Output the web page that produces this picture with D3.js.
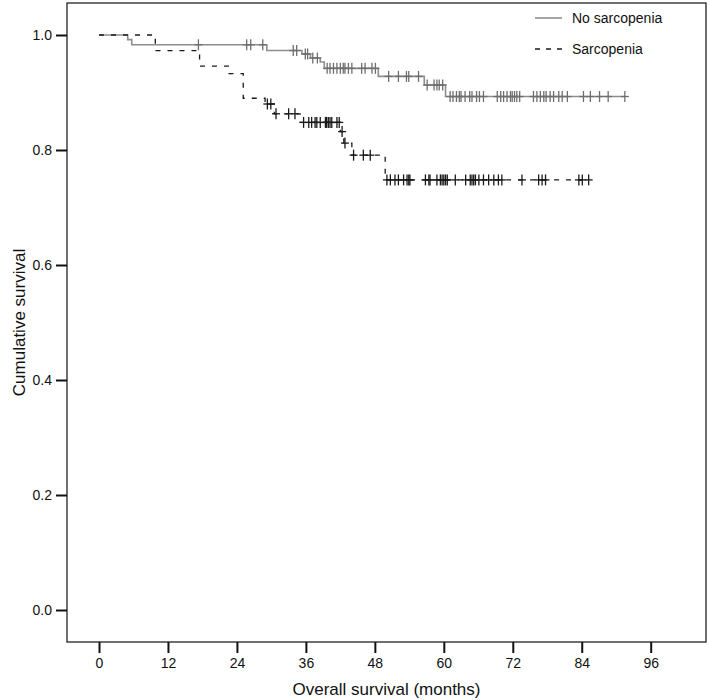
<!DOCTYPE html>
<html><head><meta charset="utf-8">
<script src="https://cdn.jsdelivr.net/npm/d3@7"></script>
<style>body{margin:0;background:#fff}svg{display:block}text{font-family:"Liberation Sans",Arial,sans-serif;fill:#111}</style>
</head><body><svg id="c" width="709" height="700"></svg>
<script>
const xTicks=[0,12,24,36,48,60,72,84,96];
const yTicks=[0.0,0.2,0.4,0.6,0.8,1.0];
const seriesNames=["No sarcopenia","Sarcopenia"];
// No sarcopenia: event times and survival after each event
const nsTimes=[5.0,5.7,29.2,35.3,36.8,38.5,39.2,48.6,56.6,60.3];
const nsSurv=[0.992,0.983,0.973,0.967,0.960,0.953,0.942,0.928,0.913,0.893];
const nsCensor=[17.3,25.7,26.4,28.5,33.8,34.4,35.9,36.3,37.2,38.0,39.7,40.2,40.8,41.4,42.0,42.5,42.8,43.4,44.0,45.7,46.3,47.5,48.1,50.4,52.1,53.5,53.9,55.6,57.1,58.3,58.8,59.2,59.8,61.1,61.6,62.2,62.7,63.0,63.7,64.5,64.9,65.7,66.2,66.9,69.3,69.9,70.4,71.0,71.6,71.9,72.3,72.7,73.2,75.6,76.2,76.8,77.4,77.8,78.5,79.1,80.0,80.6,81.5,84.3,85.5,87.1,88.6,91.5];
const nsEnd=91.5;
// Sarcopenia
const sTimes=[9.8,17.5,22.5,25.1,28.9,30.5,35.0,42.0,42.6,44.0,49.8];
const sSurv=[0.973,0.946,0.933,0.890,0.880,0.863,0.848,0.832,0.812,0.791,0.748];
const sCensor=[29.3,29.9,30.8,33.0,34.1,35.6,36.5,37.0,37.6,37.9,38.5,39.4,39.6,39.9,40.2,40.5,41.4,41.8,42.3,42.8,44.3,46.0,47.2,50.1,50.7,51.5,52.1,53.0,53.6,53.9,54.1,56.8,57.4,57.6,58.8,59.4,59.7,60.0,60.3,60.6,62.0,63.8,64.6,64.9,65.2,65.5,66.1,66.9,67.8,68.7,69.5,70.1,73.6,76.5,77.1,77.7,83.5,84.1,85.2];
const sEnd=85.2;

const svg=d3.select("#c");
const L=67,R=706,T=3,B=642;
const x=d3.scaleLinear().domain([0,96]).range([99,650.7]);
const y=d3.scaleLinear().domain([0,1]).range([610,35]);

svg.append("rect").attr("x",L).attr("y",T).attr("width",R-L).attr("height",B-T)
  .attr("fill","none").attr("stroke","#222").attr("stroke-width",1.3);

const yAxis=svg.append("g").attr("transform",`translate(${L},0)`)
  .call(d3.axisLeft(y).tickValues(yTicks).tickFormat(d3.format(".1f")).tickSize(11).tickPadding(4));
const xAxis=svg.append("g").attr("transform",`translate(0,${B})`)
  .call(d3.axisBottom(x).tickValues(xTicks).tickFormat(d3.format("d")).tickSize(11).tickPadding(5));
[yAxis,xAxis].forEach(g=>{
  g.select(".domain").remove();
  g.selectAll(".tick line").attr("stroke","#111").attr("stroke-width",2);
  g.selectAll(".tick text").attr("font-size",14).attr("fill","#111").style("font-family","Liberation Sans, Arial, sans-serif");
});

svg.append("text").attr("x",(L+R)/2).attr("y",695).attr("text-anchor","middle").attr("font-size",17).text("Overall survival (months)");
svg.append("text").attr("transform",`translate(25,${(T+B)/2}) rotate(-90)`).attr("text-anchor","middle").attr("font-size",17).text("Cumulative survival");

function stepPts(times,surv,end){
  const p=[[0,1]];
  times.forEach((t,i)=>p.push([t,surv[i]]));
  p.push([end,surv[surv.length-1]]);
  return p;
}
function survAt(times,surv,t){
  let s=1;
  for(let i=0;i<times.length;i++){ if(times[i]<=t) s=surv[i]; }
  return s;
}
const line=d3.line().x(d=>x(d[0])).y(d=>y(d[1])).curve(d3.curveStepAfter);

function drawSeries(times,surv,end,cens,color,markColor,width,dash){
  svg.append("path").datum(stepPts(times,surv,end)).attr("d",line)
    .attr("fill","none").attr("stroke",color).attr("stroke-width",width)
    .attr("stroke-dasharray",dash);
  const g=svg.append("g").attr("stroke",markColor).attr("stroke-width",1.3);
  cens.forEach(t=>{
    const cx=x(t),cy=y(survAt(times,surv,t));
    g.append("line").attr("x1",cx).attr("x2",cx).attr("y1",cy-5.5).attr("y2",cy+5.5);
    g.append("line").attr("x1",cx-4).attr("x2",cx+4).attr("y1",cy).attr("y2",cy);
  });
}
drawSeries(nsTimes,nsSurv,nsEnd,nsCensor,"#8e8e8e","#6e6e6e",1.6,null);
drawSeries(sTimes,sSurv,sEnd,sCensor,"#1a1a1a","#1a1a1a",1.3,"5,7");

const leg=[{name:seriesNames[0],color:"#8e8e8e",dash:null,w:1.6,y:18},{name:seriesNames[1],color:"#1a1a1a",dash:"5,6",w:1.3,y:49}];
leg.forEach(d=>{
  svg.append("line").attr("x1",535).attr("x2",562).attr("y1",d.y).attr("y2",d.y)
    .attr("stroke",d.color).attr("stroke-width",d.w).attr("stroke-dasharray",d.dash);
  svg.append("text").attr("x",572).attr("y",d.y+5).attr("font-size",14).text(d.name);
});
</script></body></html>
